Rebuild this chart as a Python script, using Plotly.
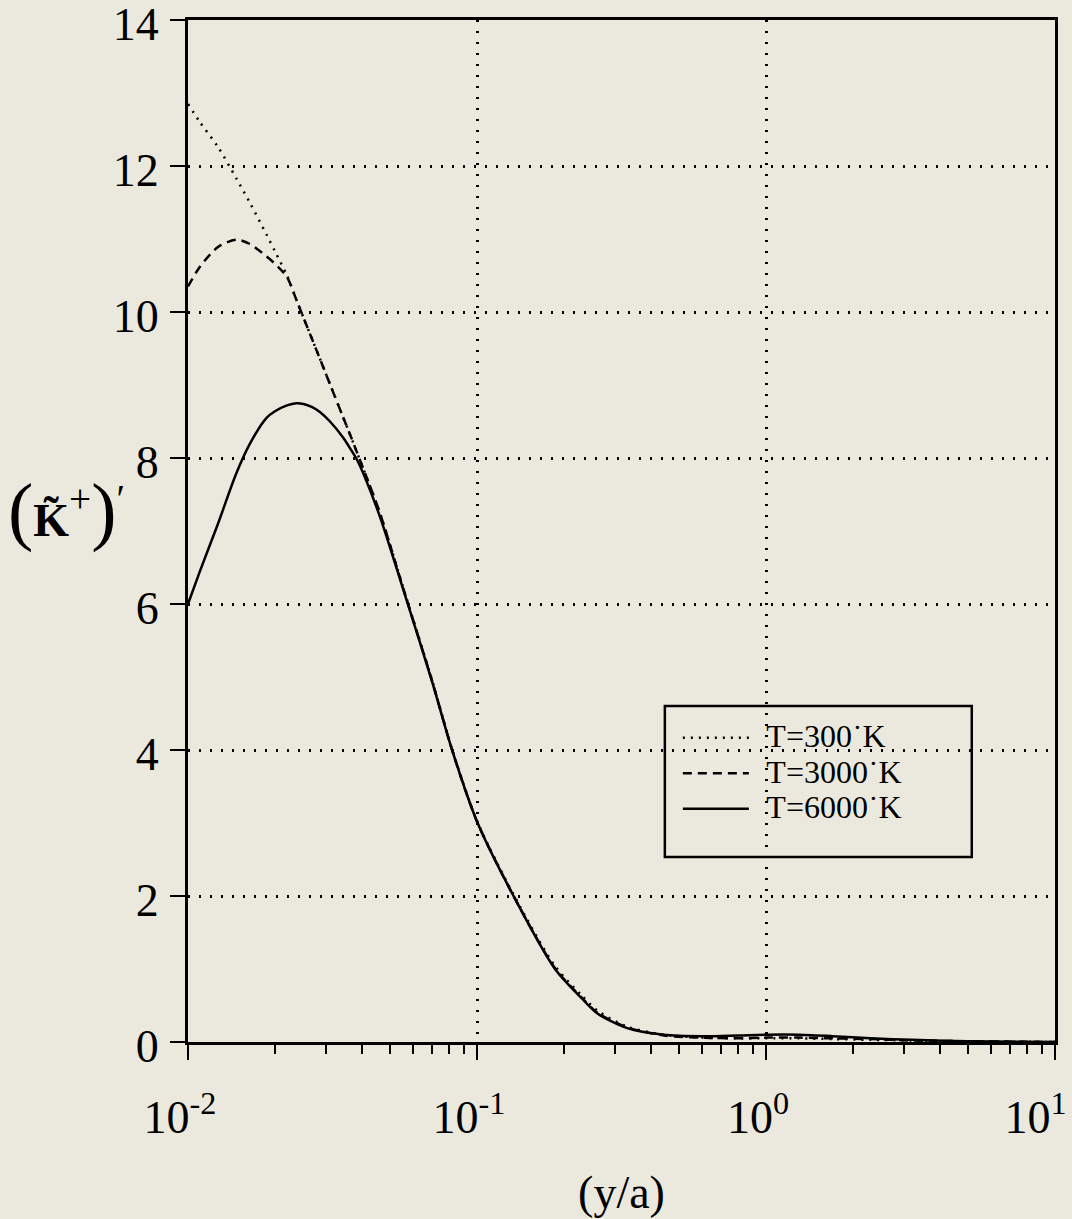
import plotly.graph_objects as go

# ---- data ----
x_vals = [0.01, 0.011, 0.0127, 0.0147, 0.0164, 0.0187, 0.02, 0.022, 0.0237, 0.0251,
          0.0268, 0.0286, 0.031, 0.0344, 0.0368, 0.0384, 0.0409, 0.0462, 0.0571, 0.07,
          0.082, 0.1, 0.1338, 0.1862, 0.23, 0.261, 0.331, 0.443, 0.6, 0.8,
          1.0, 1.3, 1.7, 2.3, 3.2, 5.0, 10.0]

k_300 = [12.85, 12.6, 12.26, 11.83, 11.49, 11.06, 10.83, 10.5, 10.17, 9.92,
         9.64, 9.36, 9.01, 8.56, 8.27, 8.08, 7.8, 7.24, 6.07, 4.95,
         4.01, 3.03, 2.02, 1.04, 0.64, 0.43, 0.21, 0.10, 0.06, 0.05,
         0.05, 0.05, 0.04, 0.03, 0.02, 0.01, 0.0]

k_3000 = [10.35, 10.62, 10.89, 10.99, 10.93, 10.76, 10.66, 10.48, 10.17, 9.92,
          9.64, 9.36, 9.01, 8.56, 8.27, 8.08, 7.8, 7.24, 6.06, 4.94,
          4.0, 3.02, 2.0, 1.01, 0.61, 0.4, 0.2, 0.09, 0.06, 0.05,
          0.06, 0.06, 0.05, 0.04, 0.02, 0.01, 0.0]

k_6000 = [6.0, 6.45, 7.1, 7.79, 8.2, 8.55, 8.64, 8.72, 8.75, 8.74,
          8.7, 8.63, 8.5, 8.28, 8.1, 7.98, 7.74, 7.19, 6.05, 4.93,
          4.0, 3.02, 2.0, 1.0, 0.6, 0.39, 0.19, 0.10, 0.08, 0.09,
          0.10, 0.10, 0.08, 0.05, 0.03, 0.01, 0.0]

series_names = ["T=300˙K", "T=3000˙K", "T=6000˙K"]

y_ticks = [0, 2, 4, 6, 8, 10, 12, 14]
x_major = [0.01, 0.1, 1, 10]
x_major_text = ["10<sup>-2</sup>", "10<sup>-1</sup>", "10<sup>0</sup>",
                "10<sup>1</sup>\u00a0\u00a0"]
x_minor = [m * d for d in (0.01, 0.1, 1) for m in range(2, 10)]

FONT = "Liberation Serif"
BG = "#ebe9dd"


def legend_label(name):
    return '\u00a0\u00a0<span style="font-size:32px">' + name + '</span>'


fig = go.Figure()
fig.add_trace(go.Scatter(x=x_vals, y=k_300, name=legend_label(series_names[0]), mode="lines",
                         line=dict(color="black", width=2.5, dash="2px,6px",
                                   shape="spline", smoothing=0.8)))
fig.add_trace(go.Scatter(x=x_vals, y=k_3000, name=legend_label(series_names[1]), mode="lines",
                         line=dict(color="black", width=2.5, dash="9px,6px",
                                   shape="spline", smoothing=0.8)))
fig.add_trace(go.Scatter(x=x_vals, y=k_6000, name=legend_label(series_names[2]), mode="lines",
                         line=dict(color="black", width=2.5,
                                   shape="spline", smoothing=0.8)))

fig.update_layout(
    width=1072, height=1219,
    margin=dict(l=188, r=17, t=20, b=177, autoexpand=False),
    paper_bgcolor=BG, plot_bgcolor=BG,
    font=dict(family=FONT, color="black", size=46),
    showlegend=True,
    legend=dict(x=0.565, y=0.32, xanchor="left", yanchor="top",
                bgcolor="rgba(0,0,0,0)", borderwidth=0,
                font=dict(family=FONT, size=25, color="black"),
                itemwidth=66, tracegroupgap=0),
    shapes=[dict(type="rect", xref="paper", yref="paper",
                 x0=0.550, x1=0.904, y0=0.181, y1=0.3288,
                 line=dict(color="black", width=2.5), fillcolor=BG, layer="below")],
)

fig.update_xaxes(
    type="log", range=[-2, 1], automargin=False,
    tickmode="array", tickvals=x_major, ticktext=x_major_text,
    ticks="outside", ticklen=15, tickwidth=2, tickcolor="black",
    ticklabelstandoff=18, ticklabeloverflow="allow", ticklabelshift=-8,
    tickfont=dict(family=FONT, size=46),
    minor=dict(tickmode="array", tickvals=x_minor, ticks="outside", ticklen=9,
               tickwidth=2, tickcolor="black", showgrid=False),
    showgrid=True, gridcolor="black", gridwidth=2.5, griddash="2px,9px",
    showline=True, linecolor="black", linewidth=3, mirror=True,
    zeroline=False,
    title=dict(text="(y/a)", font=dict(family=FONT, size=46), standoff=34),
)
fig.update_yaxes(
    range=[0, 14], tickmode="array", tickvals=y_ticks, automargin=False,
    ticks="outside", ticklen=15, tickwidth=2, tickcolor="black",
    ticklabeloverflow="allow", ticklabelstandoff=2, ticklabelshift=4,
    tickfont=dict(family=FONT, size=46),
    showgrid=True, gridcolor="black", gridwidth=2.5, griddash="2px,9px",
    showline=True, linecolor="black", linewidth=3, mirror=True,
    zeroline=False,
)

fig.add_annotation(
    xref="paper", yref="paper", x=-0.14, y=0.52, xanchor="center", yanchor="middle",
    showarrow=False,
    text='<span style="font-size:76px">(</span><b>K̃</b><span style="font-size:56px"><sup>+</sup></span>'
         '<span style="font-size:76px">)</span><span style="font-size:56px"><sup>′</sup></span>',
    font=dict(family=FONT, size=46, color="black"),
)

fig.write_html("out.html")
